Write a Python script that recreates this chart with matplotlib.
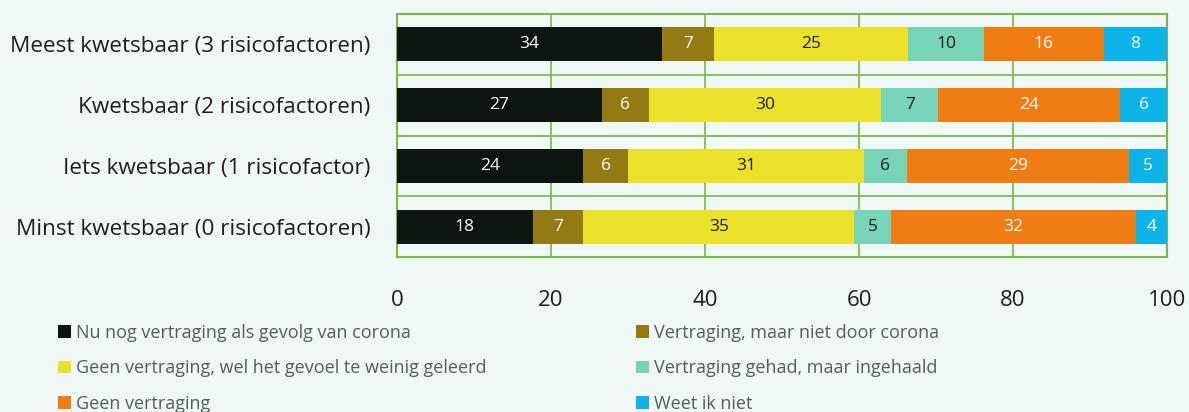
import matplotlib.pyplot as plt
import numpy as np

plt.rcParams['font.family'] = ['Open Sans', 'DejaVu Sans']

# categorieën (van boven naar beneden)
categorieen = [
    "Meest kwetsbaar (3 risicofactoren)",
    "Kwetsbaar (2 risicofactoren)",
    "Iets kwetsbaar (1 risicofactor)",
    "Minst kwetsbaar (0 risicofactoren)",
]

reeksen = [
    "Nu nog vertraging als gevolg van corona",
    "Vertraging, maar niet door corona",
    "Geen vertraging, wel het gevoel te weinig geleerd",
    "Vertraging gehad, maar ingehaald",
    "Geen vertraging",
    "Weet ik niet",
]

# percentages per reeks, in volgorde van de categorieën
nu_nog = [34.4, 26.6, 24.2, 17.6]
niet_corona = [6.8, 6.1, 5.8, 6.6]
te_weinig = [25.2, 30.2, 30.6, 35.2]
ingehaald = [9.8, 7.4, 5.6, 4.7]
geen = [15.6, 23.6, 28.9, 31.9]
weet_niet = [8.2, 6.1, 4.9, 4.0]

# labels zoals in de bron
labels_nu_nog = [34, 27, 24, 18]
labels_niet_corona = [7, 6, 6, 7]
labels_te_weinig = [25, 30, 31, 35]
labels_ingehaald = [10, 7, 6, 5]
labels_geen = [16, 24, 29, 32]
labels_weet_niet = [8, 6, 5, 4]

kleuren = ["#0c1510", "#937a12", "#ebe02a", "#77d4b8", "#f07c14", "#0db4ea"]
tekstkleur = ["white", "white", "#1e1e1e", "#1e1e1e", "white", "white"]

waarden = [nu_nog, niet_corona, te_weinig, ingehaald, geen, weet_niet]
labels = [labels_nu_nog, labels_niet_corona, labels_te_weinig,
          labels_ingehaald, labels_geen, labels_weet_niet]

achtergrond = "#f0f8f5"
groen = "#7ab648"

fig = plt.figure(figsize=(11.89, 4.12), dpi=100, facecolor=achtergrond)
ax = fig.add_axes([0.334, 0.376, 0.6475, 0.59])
ax.set_facecolor(achtergrond)

y = np.arange(len(categorieen))
links = np.zeros(len(categorieen))
handles = []
for i, reeks in enumerate(reeksen):
    bars = ax.barh(y, waarden[i], left=links, height=0.56, color=kleuren[i],
                   label=reeks, zorder=3)
    handles.append(bars)
    for j, b in enumerate(bars):
        ax.text(links[j] + waarden[i][j] / 2, y[j], str(labels[i][j]),
                ha="center", va="center", fontsize=12.5, color=tekstkleur[i], zorder=4)
    links += np.array(waarden[i])

ax.set_xlim(0, 100)
ax.set_ylim(len(categorieen) - 0.5, -0.5)
ax.set_yticks(y)
ax.set_yticklabels(categorieen, fontsize=16.2, color="#1e1e1e")
ax.set_yticks(np.arange(len(categorieen) + 1) - 0.5, minor=True)
ax.set_xticks([0, 20, 40, 60, 80, 100])
ax.tick_params(axis="x", labelsize=16, colors="#1e1e1e", length=0, pad=24)
ax.tick_params(axis="y", which="both", length=0, pad=19)
ax.grid(axis="x", color=groen, linewidth=1.2, zorder=1)
ax.grid(axis="y", which="minor", color=groen, linewidth=1.2, zorder=1)
for s in ax.spines.values():
    s.set_color(groen)
    s.set_linewidth(1.5)

# legenda in twee kolommen (rij voor rij)
kw = dict(frameon=False, fontsize=13, labelcolor="#555d5a", handlelength=0.7,
          handleheight=0.7, handletextpad=0.3, labelspacing=0.97,
          loc="upper left", borderaxespad=0)
leg1 = fig.legend([handles[0], handles[2], handles[4]],
                  [reeksen[0], reeksen[2], reeksen[4]],
                  bbox_to_anchor=(0.043, 0.232), **kw)
leg2 = fig.legend([handles[1], handles[3], handles[5]],
                  [reeksen[1], reeksen[3], reeksen[5]],
                  bbox_to_anchor=(0.529, 0.232), **kw)

fig.savefig("out.png", dpi=100, facecolor=achtergrond)
